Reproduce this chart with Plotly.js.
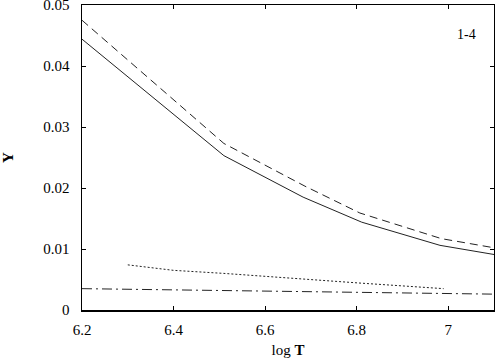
<!DOCTYPE html>
<html>
<head>
<meta charset="utf-8">
<script src="https://cdn.plot.ly/plotly-3.0.1.min.js"></script>
<style>html,body{margin:0;padding:0;background:#fff;}#chart{width:495px;height:361px;}</style>
</head>
<body>
<div id="chart"></div>
<script>
// Data
const solidX = [6.2, 6.51, 6.683, 6.811, 6.982, 7.1];
const solidY = [0.0444, 0.0253, 0.0185, 0.0144, 0.0106, 0.0091];
const dashedX = [6.2, 6.51, 6.687, 6.807, 6.985, 7.1];
const dashedY = [0.0475, 0.0273, 0.0203, 0.0159, 0.0117, 0.0102];
const dottedX = [6.3, 6.4, 6.51, 6.69, 6.81, 6.99];
const dottedY = [0.0074, 0.0065, 0.0060, 0.0050, 0.0044, 0.0035];
const dashDotX = [6.2, 6.51, 6.69, 6.81, 6.99, 7.1];
const dashDotY = [0.0035, 0.0032, 0.0030, 0.0029, 0.0027, 0.0026];
const xTickVals = [6.2, 6.4, 6.6, 6.8, 7.0];
const xTickText = ["6.2", "6.4", "6.6", "6.8", "7"];
const yTickVals = [0, 0.01, 0.02, 0.03, 0.04, 0.05];
const yTickText = ["0", "0.01", "0.02", "0.03", "0.04", "0.05"];
const panelLabel = "1-4";

const lineColor = "#222";
function tr(x, y, dash) {
  return {x: x, y: y, type: "scatter", mode: "lines", showlegend: false,
    line: {color: lineColor, width: 1, dash: dash}, hoverinfo: "skip"};
}
const data = [
  tr(solidX, solidY, "solid"),
  tr(dashedX, dashedY, "8px,5px"),
  tr(dottedX, dottedY, "2px,2px"),
  tr(dashDotX, dashDotY, "10px,4px,2px,4px")
];
const font = {family: "Liberation Serif", size: 15, color: "#000"};
const layout = {
  width: 495, height: 361,
  margin: {l: 82, r: 1, t: 5, b: 51, pad: 0},
  paper_bgcolor: "#fff", plot_bgcolor: "#fff",
  font: font,
  showlegend: false,
  xaxis: {
    range: [6.2, 7.1], tickvals: xTickVals, ticktext: xTickText,
    ticks: "inside", ticklen: 4, tickwidth: 1, tickcolor: "#000",
    showline: true, linecolor: "#000", linewidth: 1.5, mirror: "ticks",
    showgrid: false, zeroline: false, ticklabelstandoff: 5,
    title: {text: "log <b>T</b>", font: font, standoff: 8}
  },
  yaxis: {
    range: [0, 0.05], tickvals: yTickVals, ticktext: yTickText,
    ticks: "inside", ticklen: 4, tickwidth: 1, tickcolor: "#000",
    showline: true, linecolor: "#000", linewidth: 1.5, mirror: "ticks",
    showgrid: false, zeroline: false, ticklabelstandoff: 8,
    ticklabeloverflow: "allow",
    title: {text: "<b>Y</b>", font: font, standoff: 33}
  },
  annotations: [{
    text: panelLabel, xref: "x", yref: "y", x: 7.04, y: 0.0451,
    showarrow: false, font: {family: font.family, size: 14, color: "#000"}
  }]
};
Plotly.newPlot("chart", data, layout, {staticPlot: true, displayModeBar: false});
</script>
</body>
</html>
